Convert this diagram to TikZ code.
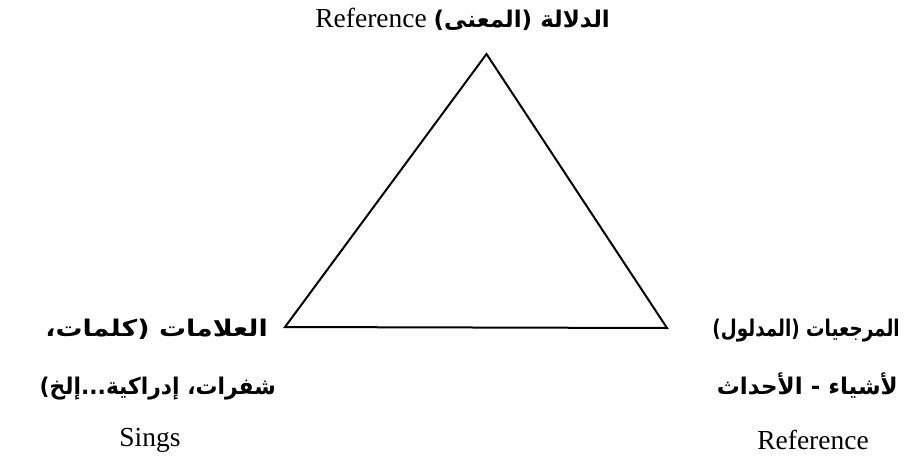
\documentclass[tikz,border=0pt]{standalone}
\usepackage{fontspec}
\setmainfont{Liberation Serif}
\newfontfamily\arabicfont[Script=Arabic]{DejaVu Sans Bold}
\TeXXeTstate=1
\newcommand{\arsz}{\arabicfont\fontsize{23}{26}\selectfont}
\newcommand{\arstretch}[1]{\addfontfeature{FakeStretch=#1}}
\begin{document}
\begin{tikzpicture}[x=1pt,y=-1pt,
  lat/.style={font=\fontsize{27.5}{30}\selectfont, inner sep=0pt, anchor=base},
  ar/.style={font=\arsz, inner sep=0pt, anchor=base east},
  edge/.style={line width=2pt, line join=miter}]
\useasboundingbox (0,0) rectangle (917,464);
\coordinate (apex) at (486.5,54);
\coordinate (bl) at (285,327);
\coordinate (br) at (667,328);
\draw[edge] (apex) -- (bl) -- (br) -- cycle;
\node[lat, anchor=base east] (toplabel) at (610,27) {\beginR{\arsz الدلالة (المعنى)} \beginL Reference\endL\endR};
\node[ar] (left1) at (268,336) {\arstretch{1.17}\beginR العلامات (كلمات،\endR};
\node[ar] (left2) at (276,394) {\arstretch{0.95}\beginR شفرات، إدراكية...إلخ)\endR};
\node[lat] (sings) at (150,446) {Sings};
\node[ar] (right1) at (900,336) {\arstretch{0.8}\beginR المرجعيات (المدلول)\endR};
\node[ar] (right2) at (898,394) {\beginR لأشياء - الأحداث\endR};
\node[lat] (ref) at (813,449) {Reference};
\end{tikzpicture}
\end{document}
